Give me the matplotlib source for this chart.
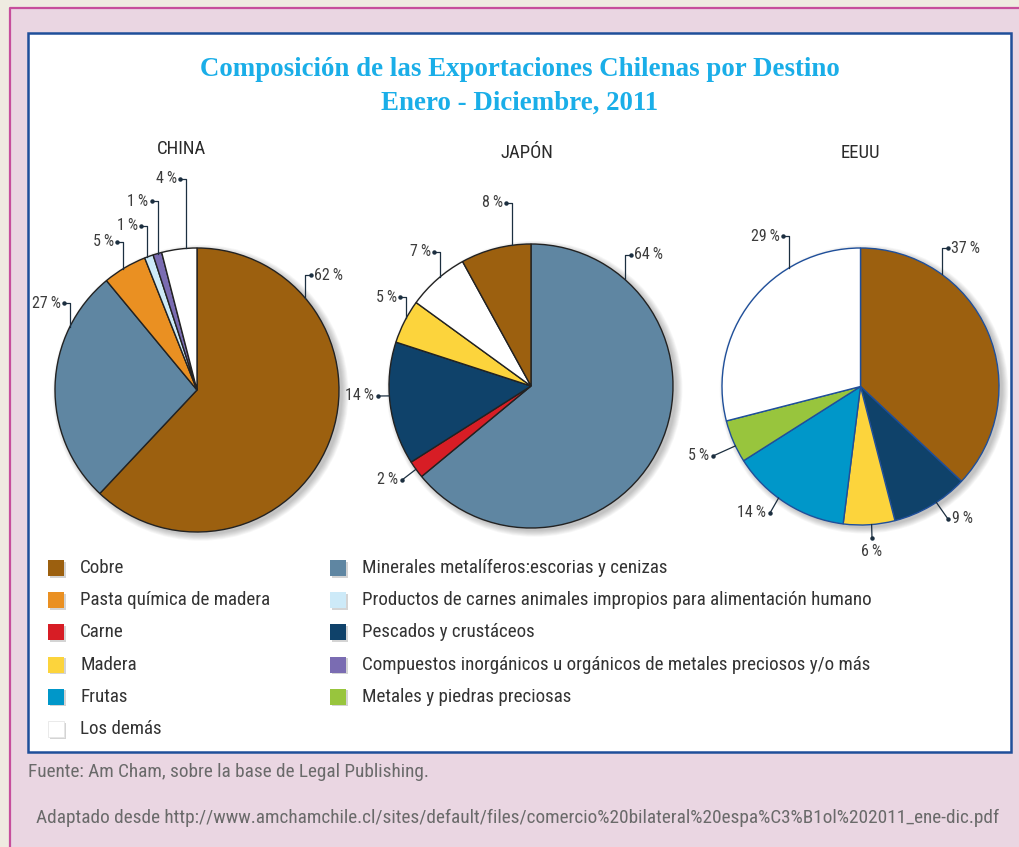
import numpy as np
import matplotlib
matplotlib.use("Agg")
import matplotlib.pyplot as plt
from matplotlib import font_manager
from matplotlib.patches import Rectangle, Circle

# categories and colours
categories = ["Cobre", "Pasta química de madera", "Carne", "Madera", "Frutas", "Los demás",
              "Minerales metalíferos:escorias y cenizas",
              "Productos de carnes animales impropios para alimentación humano",
              "Pescados y crustáceos",
              "Compuestos inorgánicos u orgánicos de metales preciosos y/o más",
              "Metales y piedras preciosas"]
colors = {"Cobre": "#9c600f", "Pasta química de madera": "#ea9022", "Carne": "#d71d25",
          "Madera": "#fcd43c", "Frutas": "#0097c9", "Los demás": "#ffffff",
          "Minerales metalíferos:escorias y cenizas": "#5f86a2",
          "Productos de carnes animales impropios para alimentación humano": "#cdeaf8",
          "Pescados y crustáceos": "#0f426a",
          "Compuestos inorgánicos u orgánicos de metales preciosos y/o más": "#7a6cb2",
          "Metales y piedras preciosas": "#98c53d"}

# shares per destination (clockwise from 12 o'clock)
china_cats = ["Cobre", "Minerales metalíferos:escorias y cenizas", "Pasta química de madera",
              "Productos de carnes animales impropios para alimentación humano",
              "Compuestos inorgánicos u orgánicos de metales preciosos y/o más", "Los demás"]
china_vals = [62, 27, 5, 1, 1, 4]
japan_cats = ["Minerales metalíferos:escorias y cenizas", "Carne", "Pescados y crustáceos",
              "Madera", "Los demás", "Cobre"]
japan_vals = [64, 2, 14, 5, 7, 8]
usa_cats = ["Cobre", "Pescados y crustáceos", "Madera", "Frutas",
            "Metales y piedras preciosas", "Los demás"]
usa_vals = [37, 9, 6, 14, 5, 29]

W, H = 1019, 847
fig = plt.figure(figsize=(W / 100, H / 100), dpi=100, facecolor="#efebe1")


def pick(names):
    have = {f.name for f in font_manager.fontManager.ttflist}
    for n in names:
        if n in have:
            return n
    return "DejaVu Sans"


narrow = pick(["Liberation Sans Narrow", "Roboto Condensed", "Roboto", "Liberation Sans"])
serif = pick(["Liberation Serif", "DejaVu Serif"])


def fx(px):
    return px / W


def fy(py):
    return 1 - py / H


# pink frame and white panel (kept behind the pie axes)
fig.add_artist(Rectangle((fx(10), 0), 1 - fx(10), fy(8), transform=fig.transFigure,
                         facecolor="#ead6e2", edgecolor="none", zorder=-3))
fig.add_artist(plt.Line2D([fx(10), fx(10), 1], [0, fy(8), fy(8)], transform=fig.transFigure,
                          color="#c64f9c", lw=1.6, zorder=-2))
fig.add_artist(Rectangle((fx(28), fy(752)), fx(1011 - 28), (752 - 33) / H,
                         transform=fig.transFigure, facecolor="white",
                         edgecolor="#1f4f9a", lw=1.8, zorder=-1))

# title
fig.text(fx(520), fy(70), "Composición de las Exportaciones Chilenas por Destino",
         ha="center", va="center", color="#1aaee8", fontsize=19.4, fontweight="bold",
         family=serif)
fig.text(fx(520), fy(103), "Enero - Diciembre, 2011", ha="center", va="center",
         color="#1aaee8", fontsize=19.4, fontweight="bold", family=serif)

text_col = "#3c3c3c"
lead_col = "#1c2f40"
pct_size = 11.5

# label layout: ('up', angle, label_y, side) or ('direct', angle, dot_x, dot_y, ha)
china_labels = [("up", 49.8, 275, 1), ("up", 296.4, 303, -1), ("up", 328.8, 242, -1),
                ("up", 339.3, 226, -1), ("up", 343.9, 201, -1), ("up", 355.5, 179, -1)]
japan_labels = [("up", 41.3, 255, 1), ("direct", 234.1, 402, 480, "right"),
                ("direct", 266.0, 378, 396, "right"), ("up", 298.5, 297, -1),
                ("up", 320.1, 252, -1), ("up", 352.4, 203, -1)]
usa_labels = [("up", 36.0, 248, 1), ("direct", 146.8, 948, 519, "left"),
              ("direct", 175.4, 872, 538, "center"), ("direct", 216.3, 770, 513, "right"),
              ("direct", 244.6, 713, 456, "right"), ("up", 329.1, 236, -1)]


def draw_pie(cx, cy, r, cats, vals, labels, title, title_x, title_y, edge):
    half = 1.7
    ax = fig.add_axes([fx(cx - half * r), fy(cy + half * r), 2 * half * r / W, 2 * half * r / H])
    ax.patch.set_visible(False)
    # soft shadow behind the pie
    for k in range(8):
        ax.add_patch(Circle((0.025, -0.02), 1.0 + 0.006 * k, facecolor="black",
                            edgecolor="none", alpha=0.03, zorder=0))
    ax.pie(vals, colors=[colors[c] for c in cats], startangle=90, counterclock=False,
           radius=1, wedgeprops=dict(edgecolor=edge, linewidth=1.0, zorder=2))
    ax.set_xlim(-half, half)
    ax.set_ylim(-half, half)
    ax.set_aspect("equal")
    ax.axis("off")

    def to_data(px, py):
        return (px - cx) / r, (cy - py) / r

    for v, lab in zip(vals, labels):
        ang = np.radians(lab[1])
        ex, ey = np.sin(ang), np.cos(ang)
        txt = f"{v}\u2009%"
        if lab[0] == "up":
            ly = (cy - lab[2]) / r
            side = lab[3]
            tick = 6 / r
            xs = [ex, ex, ex + side * tick]
            ys = [ey, ly, ly]
            ax.plot(xs, ys, color=lead_col, lw=0.9, clip_on=False, zorder=3)
            ax.plot(xs[-1], ys[-1], "o", ms=2.2, color=lead_col, clip_on=False, zorder=3)
            ax.text(xs[-1] + side * 3 / r, ly, txt, ha="left" if side > 0 else "right",
                    va="center", fontsize=pct_size, color=text_col, family=narrow)
        else:
            dx, dy = to_data(lab[2], lab[3])
            ax.plot([ex, dx], [ey, dy], color=lead_col, lw=0.9, clip_on=False, zorder=3)
            ax.plot(dx, dy, "o", ms=2.2, color=lead_col, clip_on=False, zorder=3)
            ha = lab[4]
            if ha == "center":
                ax.text(dx, dy - 13 / r, txt, ha="center", va="center", fontsize=pct_size,
                        color=text_col, family=narrow)
            else:
                off = 4 / r if ha == "left" else -4 / r
                ax.text(dx + off, dy + 1 / r, txt, ha=ha, va="center", fontsize=pct_size,
                        color=text_col, family=narrow)
    fig.text(fx(title_x), fy(title_y), title, ha="center", va="baseline", fontsize=13.5,
             color="#2a2a2a", family=narrow)


draw_pie(197, 390, 142, china_cats, china_vals, china_labels, "CHINA", 182, 154, "#222222")
draw_pie(531, 386, 142, japan_cats, japan_vals, japan_labels, "JAPÓN", 527, 158, "#222222")
draw_pie(860.5, 386.5, 138.5, usa_cats, usa_vals, usa_labels, "EEUU", 860, 158, "#1f4f9a")

# legend, two columns
col_x = [48, 330]
row_y0, row_dy = 568, 32.2
for i, cat in enumerate(categories):
    col = 0 if i < 6 else 1
    row = i if i < 6 else i - 6
    x0 = col_x[col]
    y0 = row_y0 + row * row_dy
    fig.add_artist(Rectangle((fx(x0 + 1.5), fy(y0 + 9.5)), 16 / W, 16 / H,
                             transform=fig.transFigure, facecolor="#b8b8b8",
                             edgecolor="none", alpha=0.6))
    fig.add_artist(Rectangle((fx(x0), fy(y0 + 8)), 16 / W, 16 / H, transform=fig.transFigure,
                             facecolor=colors[cat],
                             edgecolor="#e6e6e6" if cat == "Los demás" else "none", lw=0.6))
    fig.text(fx(x0 + 32), fy(y0), cat, ha="left", va="center", fontsize=13.7,
             color="#333333", family=narrow)

# sources
fig.text(fx(28), fy(772), "Fuente: Am Cham, sobre la base de Legal Publishing.",
         ha="left", va="center", fontsize=13.9, color="#6a6a6a", family=narrow)
fig.text(fx(36), fy(818),
         "Adaptado desde http://www.amchamchile.cl/sites/default/files/comercio%20bilateral%20espa%C3%B1ol%202011_ene-dic.pdf",
         ha="left", va="center", fontsize=13.9, color="#6a6a6a", family=narrow)

fig.savefig("out.png", dpi=100, facecolor=fig.get_facecolor())
